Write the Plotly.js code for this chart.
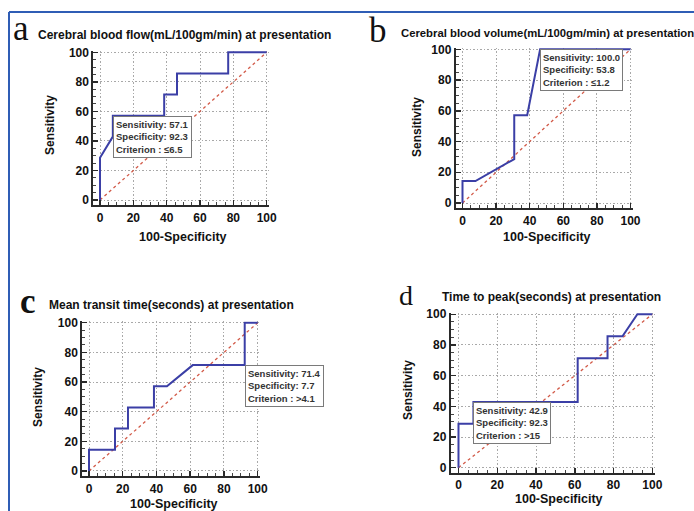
<!DOCTYPE html>
<html>
<head>
<meta charset="utf-8">
<script src="https://cdn.plot.ly/plotly-3.0.1.min.js"></script>
<style>html,body{margin:0;padding:0;background:#fff;}#chart{width:694px;height:511px;}</style>
</head>
<body>
<div id="chart"></div>
<script>
// ---- data (100-Specificity, Sensitivity) ----
const cbfX = [0, 0, 7.7, 7.7, 38.5, 38.5, 46.2, 46.2, 76.9, 76.9, 100];
const cbfY = [0, 28.6, 42.9, 57.1, 57.1, 71.4, 71.4, 85.7, 85.7, 100, 100];
const cbvX = [0, 0, 7.7, 30.8, 30.8, 38.5, 46.2, 100];
const cbvY = [0, 14.3, 14.3, 28.6, 57.1, 57.1, 100, 100];
const mttX = [0, 0, 15.4, 15.4, 23.1, 23.1, 38.5, 38.5, 46.2, 61.5, 92.3, 92.3, 100];
const mttY = [0, 14.3, 14.3, 28.6, 28.6, 42.9, 42.9, 57.1, 57.1, 71.4, 71.4, 100, 100];
const ttpX = [0, 0, 7.7, 7.7, 61.5, 61.5, 76.9, 76.9, 84.6, 92.3, 100];
const ttpY = [0, 28.6, 28.6, 42.9, 42.9, 71.4, 71.4, 85.7, 85.7, 100, 100];
const diagX = [0, 100];
const diagY = [0, 100];
const panelLetters = ["a", "b", "c", "d"];
const panelTitles = [
  "Cerebral blood flow(mL/100gm/min) at presentation",
  "Cerebral blood volume(mL/100gm/min) at presentation",
  "Mean transit time(seconds) at presentation",
  "Time to peak(seconds) at presentation"
];
const critSens = [57.1, 100.0, 71.4, 42.9];
const critSpec = [92.3, 53.8, 7.7, 92.3];
const critText = ["\u22646.5", "\u22641.2", ">4.1", ">15"];
const tickVals = [0, 20, 40, 60, 80, 100];
const xTitle = "100-Specificity";
const yTitle = "Sensitivity";

// ---- layout geometry ----
const W = 694, H = 511;
const XR = [-4, 101.5], YR = [-3.5, 101];
// pixel of data 0 and 100 for each panel
const geo = [
  {x0: 100, x1: 266.7, y0: 200, y1: 52.3},
  {x0: 462.5, x1: 630.5, y0: 203, y1: 49.3},
  {x0: 89, x1: 257.7, y0: 471, y1: 322.7},
  {x0: 458.5, x1: 652.3, y0: 467.7, y1: 314.3}
];
function xdom(g) {
  const k = (g.x1 - g.x0) / 100;
  return [(g.x0 + XR[0] * k) / W, (g.x0 + XR[1] * k) / W];
}
function ydom(g) {
  const k = (g.y0 - g.y1) / 100;
  return [1 - (g.y0 - YR[0] * k) / H, 1 - (g.y0 - YR[1] * k) / H];
}

const curves = [[cbfX, cbfY], [cbvX, cbvY], [mttX, mttY], [ttpX, ttpY]];
const data = [];
const layout = {
  width: W, height: H,
  margin: {l: 0, r: 0, t: 0, b: 0},
  paper_bgcolor: "#fff", plot_bgcolor: "rgba(0,0,0,0)",
  showlegend: false,
  font: {family: "Liberation Sans, Arial, sans-serif", color: "#111"},
  annotations: [], shapes: []
};

const titlePos = [
  {lx: 21, ly: 29, lsize: 35, lw: "normal", tx: 36, ty: 35, ts: 12},
  {lx: 378, ly: 30, lsize: 35, lw: "normal", tx: 399, ty: 33, ts: 11.3},
  {lx: 28, ly: 301, lsize: 35, lw: "bold", tx: 47, ty: 305, ts: 12},
  {lx: 406, ly: 295, lsize: 28, lw: "normal", tx: 440, ty: 297, ts: 12}
];
const axTitlePos = [
  {xx: 183, xy: 237, yx: 50, yy: 125},
  {xx: 547, xy: 237, yx: 417, yy: 127},
  {xx: 174, xy: 504, yx: 38, yy: 397},
  {xx: 559, xy: 499, yx: 408, yy: 390}
];

for (let i = 0; i < 4; i++) {
  const s = i === 0 ? "" : String(i + 1);
  const xa = "x" + s, ya = "y" + s;
  data.push({x: diagX, y: diagY, xaxis: xa, yaxis: ya, mode: "lines",
    line: {color: "#d25a48", width: 1.3, dash: "3px,3px"}, hoverinfo: "skip"});
  data.push({x: curves[i][0], y: curves[i][1], xaxis: xa, yaxis: ya, mode: "lines",
    line: {color: "#3b3fa6", width: 2}, hoverinfo: "skip"});
  const common = {
    showgrid: true, gridcolor: "#a8a8a8", griddash: "1.5px,2px", gridwidth: 1,
    zeroline: false, showline: true, linecolor: "#2a2a2a", linewidth: 2,
    ticks: "inside", ticklen: 5, tickwidth: 1.5, tickcolor: "#2a2a2a",
    tickvals: tickVals, ticktext: tickVals.map(String),
    tickfont: {size: 12, weight: "bold", color: "#111"},
    minor: {dtick: 5, ticks: "inside", ticklen: 3, tickwidth: 1, tickcolor: "#444", showgrid: false},
    fixedrange: true
  };
  layout["xaxis" + s] = Object.assign({}, common, {domain: xdom(geo[i]), range: XR, anchor: ya});
  layout["yaxis" + s] = Object.assign({}, common, {domain: ydom(geo[i]), range: YR, anchor: xa});

  // criterion box
  layout.annotations.push({
    xref: xa, yref: ya, x: 100 - critSpec[i], y: critSens[i], xanchor: "left", yanchor: "top",
    text: "Sensitivity: " + critSens[i].toFixed(1) + "<br>Specificity: " + critSpec[i].toFixed(1) +
      "<br>Criterion : " + critText[i],
    showarrow: false, align: "left", bgcolor: "#fff", bordercolor: "#7a7a7a", borderwidth: 1, borderpad: 2,
    font: {family: "Liberation Sans Narrow, Arial Narrow, Liberation Sans, sans-serif", size: 9.5, weight: "bold", color: "#333"}
  });
  const tp = titlePos[i], ap = axTitlePos[i];
  layout.annotations.push({xref: "paper", yref: "paper", x: tp.lx / W, y: 1 - tp.ly / H,
    xanchor: "center", yanchor: "middle", showarrow: false, text: panelLetters[i],
    font: {family: "Liberation Serif, Times New Roman, serif", size: tp.lsize, weight: tp.lw, color: "#111"}});
  layout.annotations.push({xref: "paper", yref: "paper", x: tp.tx / W, y: 1 - tp.ty / H,
    xanchor: "left", yanchor: "middle", showarrow: false, text: panelTitles[i],
    font: {size: tp.ts, weight: "bold", color: "#111"}});
  layout.annotations.push({xref: "paper", yref: "paper", x: ap.xx / W, y: 1 - ap.xy / H,
    xanchor: "center", yanchor: "middle", showarrow: false, text: xTitle,
    font: {size: 12.5, weight: "bold", color: "#111"}});
  layout.annotations.push({xref: "paper", yref: "paper", x: ap.yx / W, y: 1 - ap.yy / H,
    xanchor: "center", yanchor: "middle", showarrow: false, text: yTitle, textangle: -90,
    font: {size: 12, weight: "bold", color: "#111"}});
}

// blue frame
layout.shapes.push({type: "line", xref: "paper", yref: "paper", x0: 9 / W, x1: 1, y0: 1 - 12 / H, y1: 1 - 12 / H,
  line: {color: "#2f5db5", width: 2}});
layout.shapes.push({type: "line", xref: "paper", yref: "paper", x0: 9 / W, x1: 9 / W, y0: 1 - 12 / H, y1: 0,
  line: {color: "#2f5db5", width: 2}});

Plotly.newPlot("chart", data, layout, {staticPlot: true, displayModeBar: false});
</script>
</body>
</html>
